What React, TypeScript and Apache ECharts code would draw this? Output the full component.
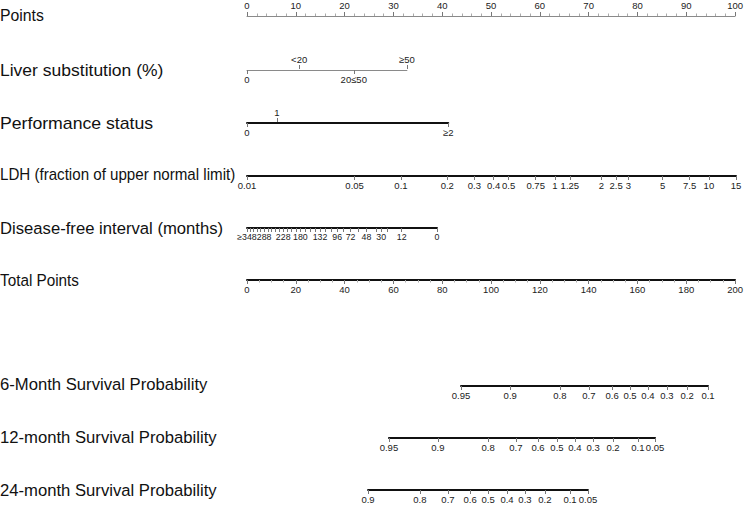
import React, { useEffect, useRef } from 'react';
import * as echarts from 'echarts';

const FONT = '"Liberation Sans Narrow", "Arial Narrow", "Liberation Sans", Arial, sans-serif';

const rowTitles = [
  'Points',
  'Liver substitution (%)',
  'Performance status',
  'LDH (fraction of upper normal limit)',
  'Disease-free interval (months)',
  'Total Points',
  '6-Month Survival Probability',
  '12-month Survival Probability',
  '24-month Survival Probability',
];
const rowTitleY = [15, 70, 123, 174, 228, 280, 384, 437, 490];
const rowTitleScaleX = [0.93, 1.03, 1.04, 0.89, 0.98, 0.9, 0.98, 0.98, 0.98];
const rowLineY = [15, 69, 122, 175, 227, 279, 385, 437, 489];

// Liver substitution: categories and their points
const liverLabels = ['0', '<20', '20≤50', '≥50'];
const liverPoints = [0, 10.6, 21.7, 32.5];
const liverAbove = [false, true, false, true];

// Performance status
const psLabels = ['0', '1', '≥2'];
const psPoints = [0, 6.1, 40.9];
const psAbove = [false, true, false];

// LDH (log scale)
const ldhValues = [0.01, 0.05, 0.1, 0.2, 0.3, 0.4, 0.5, 0.75, 1, 1.25, 2, 2.5, 3, 5, 7.5, 10, 15];
const ldhLabels = ['0.01', '0.05', '0.1', '0.2', '0.3', '0.4', '0.5', '0.75', '1', '1.25', '2', '2.5', '3', '5', '7.5', '10', '15'];

// Disease-free interval (square-root scale)
const dfiValues = [348, 288, 228, 180, 132, 96, 72, 48, 30, 12, 0];
const dfiLabels = ['≥348', '288', '228', '180', '132', '96', '72', '48', '30', '12', '0'];
const dfiMinor = [348, 336, 324, 312, 300, 288, 276, 264, 252, 240, 228, 216, 204, 192, 180, 168, 156, 144, 132, 120, 108, 96, 84, 72, 60, 48, 36, 30, 24, 12, 0];

// Survival probability scales (positions on the Total Points scale)
const s6Labels = ['0.95', '0.9', '0.8', '0.7', '0.6', '0.5', '0.4', '0.3', '0.2', '0.1'];
const s6Points = [87.0, 107.0, 127.2, 139.0, 148.4, 155.7, 163.0, 170.7, 178.9, 187.4];
const s12Labels = ['0.95', '0.9', '0.8', '0.7', '0.6', '0.5', '0.4', '0.3', '0.2', '0.1', '0.05'];
const s12Points = [57.7, 77.6, 98.0, 109.3, 118.3, 126.0, 133.3, 140.7, 148.8, 158.9, 165.9];
const s24Labels = ['0.9', '0.8', '0.7', '0.6', '0.5', '0.4', '0.3', '0.2', '0.1', '0.05'];
const s24Points = [49.2, 70.3, 81.7, 90.7, 98.0, 105.7, 113.0, 121.1, 131.3, 138.6];

const LEFT = 247;
const PTS_W = 492; // width of 0..100 points
const LABEL_SIZE = 9.5;
const DFI_LABEL_SIZE = 8.8;
const TITLE_SIZE = 17;
const LABEL_COLOR = '#222';
const TICK_COLOR = '#777';

const lookup = (pos: number[], labels: string[]) => (v: number) => {
  for (let i = 0; i < pos.length; i++) if (Math.abs(pos[i] - v) < 1e-6) return labels[i];
  return '';
};

const thick = { show: true, lineStyle: { color: '#111', width: 2 } };
const thin = { show: true, lineStyle: { color: '#8a8a8a', width: 1 } };

export default function App() {
  const ref = useRef<HTMLDivElement>(null);
  useEffect(() => {
    if (!ref.current) return;
    const chart = echarts.init(ref.current, undefined, { renderer: 'svg' });
    const grids: any[] = [];
    const xAxes: any[] = [];
    const yAxes: any[] = [];

    const addGrid = (y: number, left: number, width: number) => {
      grids.push({ left, top: y, width, height: 1, containLabel: false });
      const gi = grids.length - 1;
      yAxes.push({ gridIndex: gi, type: 'value', show: false });
      return gi;
    };
    const labelStyle = (margin: number, size = LABEL_SIZE) => ({
      fontSize: size,
      fontFamily: FONT,
      color: LABEL_COLOR,
      margin,
      showMinLabel: true,
      showMaxLabel: true,
      hideOverlap: false,
    });
    const customAxis = (
      gi: number,
      position: 'top' | 'bottom',
      min: number,
      max: number,
      pos: number[],
      labels: string[],
      line: any,
      inverse = false,
      tickVals?: number[],
      size = LABEL_SIZE,
    ) => {
      xAxes.push({
        gridIndex: gi,
        type: 'value',
        position,
        min,
        max,
        inverse,
        axisLine: line,
        splitLine: { show: false },
        axisTick: {
          show: (tickVals ?? pos).length > 0,
          length: 4,
          customValues: tickVals ?? pos,
          lineStyle: { color: TICK_COLOR, width: 1 },
        },
        axisLabel: {
          ...labelStyle(position === 'top' ? 5 : 4, size),
          customValues: pos,
          formatter: lookup(pos, labels),
        },
      });
    };

    // Points
    {
      const gi = addGrid(rowLineY[0], LEFT, PTS_W);
      xAxes.push({
        gridIndex: gi,
        type: 'value',
        position: 'top',
        min: 0,
        max: 100,
        interval: 10,
        axisLine: thin,
        splitLine: { show: false },
        axisTick: { show: true, length: 4, lineStyle: { color: TICK_COLOR } },
        minorTick: { show: true, splitNumber: 5, length: 2.5, lineStyle: { color: '#aaa' } },
        axisLabel: labelStyle(5),
      });
    }
    // Liver substitution
    {
      const max = liverPoints[liverPoints.length - 1];
      const gi = addGrid(rowLineY[1], LEFT, (PTS_W * max) / 100);
      const below = liverPoints.filter((_, i) => !liverAbove[i]);
      const belowL = liverLabels.filter((_, i) => !liverAbove[i]);
      const above = liverPoints.filter((_, i) => liverAbove[i]);
      const aboveL = liverLabels.filter((_, i) => liverAbove[i]);
      customAxis(gi, 'bottom', 0, max, below, belowL, thin);
      customAxis(gi, 'top', 0, max, above, aboveL, { show: false });
    }
    // Performance status
    {
      const max = psPoints[psPoints.length - 1];
      const gi = addGrid(rowLineY[2], LEFT, (PTS_W * max) / 100);
      const below = psPoints.filter((_, i) => !psAbove[i]);
      const belowL = psLabels.filter((_, i) => !psAbove[i]);
      const above = psPoints.filter((_, i) => psAbove[i]);
      const aboveL = psLabels.filter((_, i) => psAbove[i]);
      customAxis(gi, 'bottom', 0, max, below, belowL, thick);
      customAxis(gi, 'top', 0, max, above, aboveL, { show: false });
    }
    // LDH (log10 scale)
    {
      const pos = ldhValues.map((v) => Math.log10(v));
      const gi = addGrid(rowLineY[3], LEFT, 489);
      customAxis(gi, 'bottom', pos[0], pos[pos.length - 1], pos, ldhLabels, thick);
    }
    // Disease-free interval (sqrt scale, reversed); the end label sits on its own axis
    {
      const pos = dfiValues.map((v) => Math.sqrt(v));
      const ticks = dfiMinor.map((v) => Math.sqrt(v));
      const gi = addGrid(rowLineY[4], LEFT, 190);
      const maxV = Math.sqrt(dfiValues[0]);
      customAxis(gi, 'bottom', 0, maxV, pos.slice(1), dfiLabels.slice(1), thick, true, ticks, DFI_LABEL_SIZE);
      customAxis(gi, 'bottom', 0, maxV, pos.slice(0, 1), dfiLabels.slice(0, 1), { show: false }, true, [], DFI_LABEL_SIZE);
    }
    // Total points
    {
      const gi = addGrid(rowLineY[5], LEFT, PTS_W);
      xAxes.push({
        gridIndex: gi,
        type: 'value',
        position: 'bottom',
        min: 0,
        max: 200,
        interval: 20,
        axisLine: thick,
        splitLine: { show: false },
        axisTick: { show: true, length: 4, lineStyle: { color: TICK_COLOR } },
        minorTick: { show: true, splitNumber: 4, length: 2.5, lineStyle: { color: '#aaa' } },
        axisLabel: labelStyle(4),
      });
    }
    // Survival probabilities on Total Points scale
    const survRows: [number[], string[]][] = [
      [s6Points, s6Labels],
      [s12Points, s12Labels],
      [s24Points, s24Labels],
    ];
    survRows.forEach(([pts, labels], k) => {
      const min = pts[0];
      const max = pts[pts.length - 1];
      const scale = PTS_W / 200;
      const gi = addGrid(rowLineY[6 + k], LEFT + min * scale, (max - min) * scale);
      customAxis(gi, 'bottom', min, max, pts, labels, thick);
    });

    const graphic = rowTitles.map((t, i) => ({
      type: 'text',
      x: 0,
      y: rowTitleY[i],
      scaleX: rowTitleScaleX[i],
      silent: true,
      style: {
        text: t,
        fontSize: TITLE_SIZE,
        fontFamily: FONT,
        fill: '#111',
        verticalAlign: 'middle',
        align: 'left',
      },
    }));

    chart.setOption({
      animation: false,
      backgroundColor: '#fff',
      grid: grids,
      xAxis: xAxes,
      yAxis: yAxes,
      graphic,
      series: [],
    });
    return () => chart.dispose();
  }, []);
  return (
    <div
      ref={ref}
      style={{ position: 'fixed', left: 0, top: 0, width: 746, height: 506, background: '#fff' }}
    />
  );
}
